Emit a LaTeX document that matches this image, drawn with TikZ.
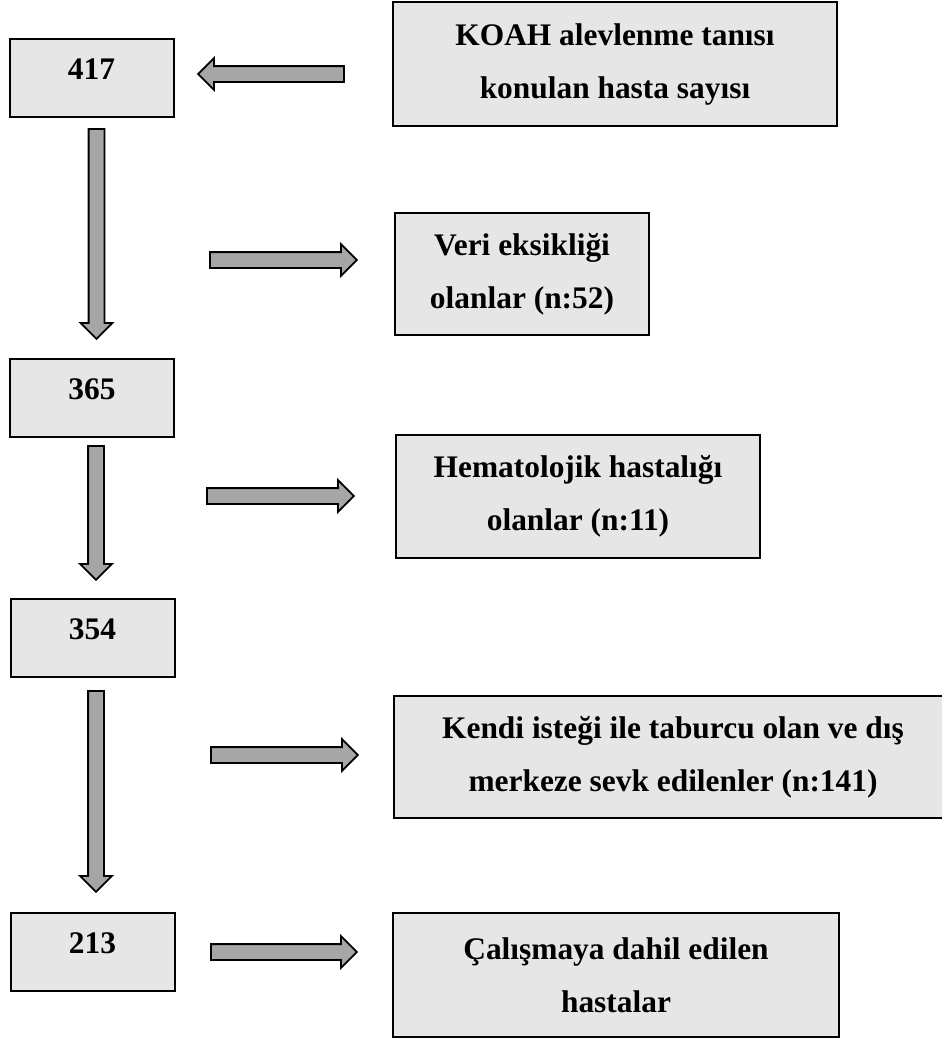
\documentclass[tikz,border=0pt]{standalone}
\usepackage{fontspec}
\setmainfont{Liberation Serif}
\usetikzlibrary{shapes.arrows}
\definecolor{boxgray}{RGB}{230,230,230}
\definecolor{arrowgray}{RGB}{166,166,166}

\begin{document}
\begin{tikzpicture}[x=1pt,y=-1pt,
  box/.style={draw, line width=2pt, fill=boxgray, inner sep=0pt, align=center,
    font=\fontsize{31.4}{53}\selectfont\bfseries},
  numbox/.style={box, minimum width=164pt, minimum height=78pt, text height=20pt, text depth=17pt},
  blockarrow/.style={single arrow, draw, line width=1.8pt, fill=arrowgray, inner sep=7pt,
    single arrow head extend=8pt, outer sep=0pt}]
\useasboundingbox (0,0) rectangle (942,1039);
\clip (0,0) rectangle (942,1039);
% kutular
\node[numbox] (n417) at (91.5,77.5) {417};
\node[box, minimum width=444pt, minimum height=124pt] (koah) at (615,64) {KOAH alevlenme tanısı\\konulan hasta sayısı};
\node[box, minimum width=254pt, minimum height=122pt] (veri) at (522,274) {Veri eksikliği\\olanlar (n:52)};
\node[numbox] (n365) at (92,397.5) {365};
\node[box, minimum width=364pt, minimum height=123pt] (hema) at (578,496.5) {Hematolojik hastalığı\\olanlar (n:11)};
\node[numbox] (n354) at (92.5,638) {354};
\node[box, minimum width=558pt, minimum height=122pt] (kendi) at (673,757) {Kendi isteği ile taburcu olan ve dış\\merkeze sevk edilenler (n:141)};
\node[numbox] (n213) at (92.5,952) {213};
\node[box, minimum width=446pt, minimum height=124pt] (calis) at (616,975) {Çalışmaya dahil edilen\\hastalar};
% oklar
\node[blockarrow, minimum height=146pt, shape border rotate=180] (a0) at (275,74) {};
\node[blockarrow, minimum height=210pt, shape border rotate=270] (v1) at (96.5,230) {};
\node[blockarrow, minimum height=147pt] (r1) at (279.5,260) {};
\node[blockarrow, minimum height=134pt, shape border rotate=270] (v2) at (96,509) {};
\node[blockarrow, minimum height=147pt] (r2) at (276.5,496) {};
\node[blockarrow, minimum height=201pt, shape border rotate=270] (v3) at (96,787.5) {};
\node[blockarrow, minimum height=147pt] (r3) at (280.5,755) {};
\node[blockarrow, minimum height=146pt] (r4) at (280,952) {};
\end{tikzpicture}
\end{document}
